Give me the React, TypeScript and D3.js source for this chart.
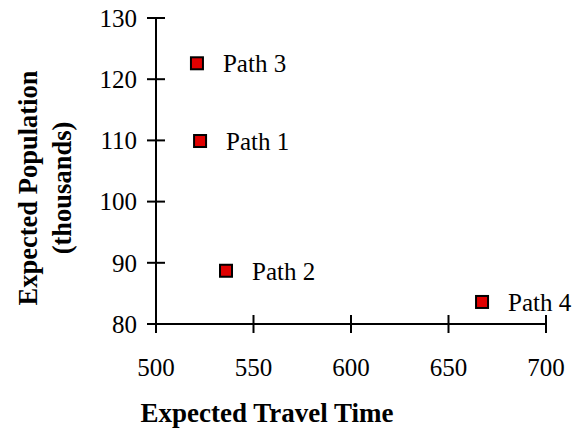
import React from "react";
import * as d3 from "d3";

const labels = ["Path 1", "Path 2", "Path 3", "Path 4"];
const travelTime = [522.6, 535.9, 521, 667.2];
const population = [109.9, 88.7, 122.6, 83.6];
const xTicks = [500, 550, 600, 650, 700];
const yTicks = [80, 90, 100, 110, 120, 130];

export default function App() {
  const W = 577, H = 430;
  const x = d3.scaleLinear().domain([500, 700]).range([156, 546]);
  const y = d3.scaleLinear().domain([80, 130]).range([324, 18]);
  const font = "'Liberation Serif', 'Times New Roman', serif";
  return (
    <svg width={W} height={H} style={{ position: "absolute", left: 0, top: 0, background: "#fff" }} fontFamily={font}>
      <line x1={x(500)} x2={x(700)} y1={y(80)} y2={y(80)} stroke="#000" strokeWidth={2} />
      <line x1={x(500)} x2={x(500)} y1={y(80)} y2={y(130)} stroke="#000" strokeWidth={2} />
      {xTicks.map((t) => (
        <g key={"x" + t}>
          <line x1={x(t)} x2={x(t)} y1={y(80) - 9} y2={y(80) + 9} stroke="#000" strokeWidth={2} />
          <text x={x(t)} y={376} fontSize={25} textAnchor="middle">{t}</text>
        </g>
      ))}
      {yTicks.map((t) => (
        <g key={"y" + t}>
          <line x1={x(500) - 9} x2={x(500) + 9} y1={y(t)} y2={y(t)} stroke="#000" strokeWidth={2} />
          <text x={137} y={y(t)} dy="0.35em" fontSize={25} textAnchor="end">{t}</text>
        </g>
      ))}
      {labels.map((l, i) => (
        <g key={l}>
          <rect x={x(travelTime[i]) - 6} y={y(population[i]) - 6} width={12} height={12} fill="#e00000" stroke="#000" strokeWidth={2} />
          <text x={x(travelTime[i]) + 26} y={y(population[i])} dy="0.35em" fontSize={25}>{l}</text>
        </g>
      ))}
      <text x={267} y={422} fontSize={27} fontWeight="bold" textAnchor="middle">Expected Travel Time</text>
      <g transform="translate(37,188) rotate(-90)">
        <text x={0} y={0} fontSize={26.5} fontWeight="bold" textAnchor="middle">Expected Population</text>
        <text x={0} y={34} fontSize={26.5} fontWeight="bold" textAnchor="middle">(thousands)</text>
      </g>
    </svg>
  );
}
